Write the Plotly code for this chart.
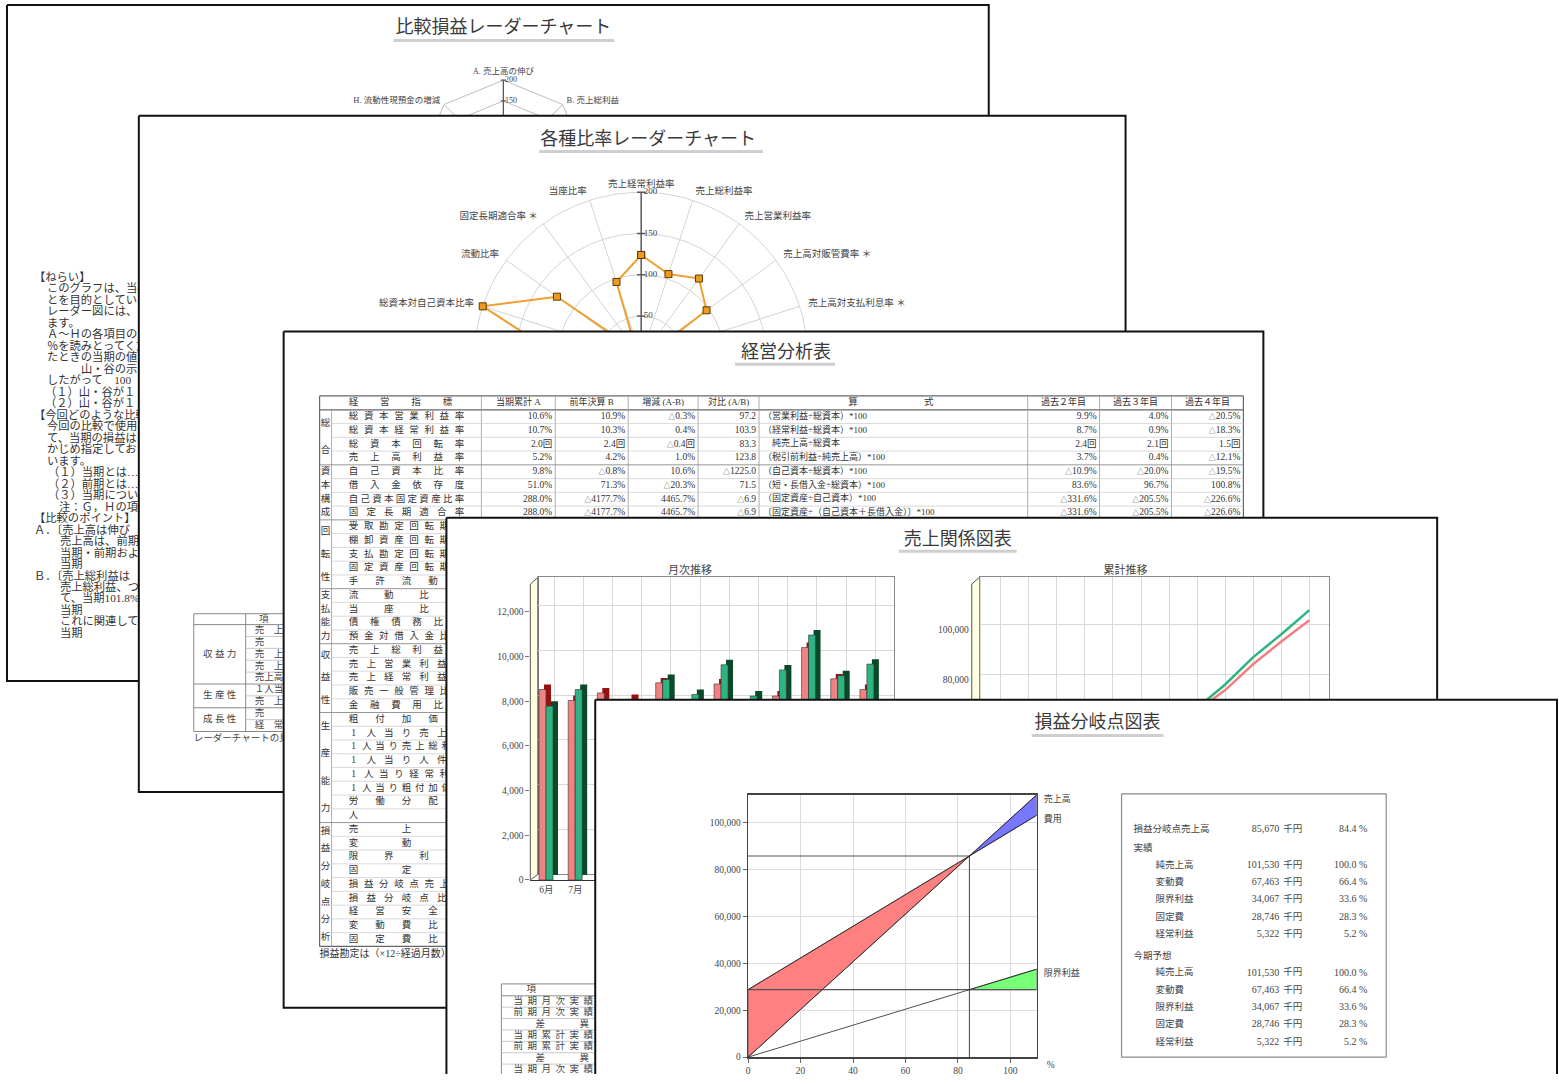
import numpy as np
import plotly.graph_objects as go
from collections import OrderedDict

W, H = 1559, 1085
CJK = "Noto Sans CJK JP"
MIX = "Liberation Serif, Noto Sans CJK JP"
INK = "#333333"

# ======================= DATA =======================
# 比較損益レーダーチャート
radar1_labels = ["A. 売上高の伸び", "B. 売上総利益", "C. 営業利益", "D. 経常利益",
                 "E. 人件費", "F. 販売管理費", "G. 流動資産の増減", "H. 流動性現預金の増減"]
radar1_values = [103.0, 101.8, 96.0, 92.0, 99.0, 97.0, 90.0, 95.0]
radar1_levels = [50, 100, 150, 200]

# 各種比率レーダーチャート
radar2_labels = ["売上経常利益率", "売上総利益率", "売上営業利益率", "売上高対販管費率 ＊",
                 "売上高対支払利息率 ＊", "1人当り売上高", "1人当り粗付加価値", "労働分配率 ＊",
                 "受取勘定回転期間 ＊", "棚卸資産回転期間 ＊", "支払勘定回転期間", "固定資産回転期間 ＊",
                 "手許流動性", "預金対借入金比率", "借入金依存度 ＊", "債権債務比率",
                 "総資本対自己資本比率", "流動比率", "固定長期適合率 ＊", "当座比率"]
radar2_values = [124, 106, 118, 97, 10, 85, 92, 104, 88, 95, 110, 90, 102, 80, 96, 96, 200, 125, 10, 96]
radar2_levels = [50, 100, 150, 200]

# 売上関係図表
months = ["6月", "7月", "8月", "9月", "10月", "11月", "12月", "1月", "2月", "3月", "4月", "5月"]
sales_this = [8520, 8030, 8370, 8080, 8820, 7450, 8770, 7340, 8230, 10400, 9000, 8520]
sales_last = [7780, 8520, 7600, 7400, 8970, 8300, 9630, 8230, 9400, 10960, 9140, 9660]
bar_ticks = [0, 2000, 4000, 6000, 8000, 10000, 12000]
cum_ticks = [0, 20000, 40000, 60000, 80000, 100000]

# 損益分岐点図表
be_sales = 101530
be_variable = 67463
be_fixed = 28746
be_xticks = [0, 20, 40, 60, 80, 100]
be_yticks = [0, 20000, 40000, 60000, 80000, 100000]
box_labels = ["損益分岐点売上高", "実績", "純売上高", "変動費", "限界利益", "固定費", "経常利益",
              "今期予想", "純売上高", "変動費", "限界利益", "固定費", "経常利益"]
box_amounts = [85670, None, 101530, 67463, 34067, 28746, 5322, None, 101530, 67463, 34067, 28746, 5322]
box_pcts = [84.4, None, 100.0, 66.4, 33.6, 28.3, 5.2, None, 100.0, 66.4, 33.6, 28.3, 5.2]

# 経営分析表
t_groups = [("総合", 4), ("資本構成", 4), ("回転性", 5), ("支払能力", 4), ("収益性", 5),
            ("生産能力", 8), ("損益分岐点分析", 9)]
t_names = ["総資本営業利益率", "総資本経常利益率", "総資本回転率", "売上高利益率",
           "自己資本比率", "借入金依存度", "自己資本固定資産比率", "固定長期適合率",
           "受取勘定回転期間", "棚卸資産回転期間", "支払勘定回転期間", "固定資産回転期間", "手許流動性",
           "流動比率", "当座比率", "債権債務比率", "預金対借入金比率",
           "売上総利益率", "売上営業利益率", "売上経常利益率", "販売一般管理比率", "金融費用比率",
           "粗付加価値", "1人当り売上高", "1人当り売上総利益", "1人当り人件費", "1人当り経常利益",
           "1人当り粗付加価値", "労働分配率", "人員",
           "売上高", "変動費", "限界利益", "固定費", "損益分岐点売上高", "損益分岐点比率",
           "経営安全率", "変動費比率", "固定費比率"]
t_headers = ["当期累計 A", "前年決算 B", "増減 (A-B)", "対比 (A/B)", "過去２年目", "過去３年目", "過去４年目"]
t_colA = ["10.6%", "10.7%", "2.0回", "5.2%", "9.8%", "51.0%", "288.0%", "288.0%"]
t_colB = ["10.9%", "10.3%", "2.4回", "4.2%", "△0.8%", "71.3%", "△4177.7%", "△4177.7%"]
t_colD = ["△0.3%", "0.4%", "△0.4回", "1.0%", "10.6%", "△20.3%", "4465.7%", "4465.7%"]
t_colR = ["97.2", "103.9", "83.3", "123.8", "△1225.0", "71.5", "△6.9", "△6.9"]
t_formula = ["（営業利益÷総資本）*100", "（経常利益÷総資本）*100", "　純売上高÷総資本",
             "（税引前利益÷純売上高）*100", "（自己資本÷総資本）*100", "（短・長借入金÷総資本）*100",
             "（固定資産÷自己資本）*100", "〔固定資産÷（自己資本＋長借入金）〕*100"]
t_past2 = ["9.9%", "8.7%", "2.4回", "3.7%", "△10.9%", "83.6%", "△331.6%", "△331.6%"]
t_past3 = ["4.0%", "0.9%", "2.1回", "0.4%", "△20.0%", "96.7%", "△205.5%", "△205.5%"]
t_past4 = ["△20.5%", "△18.3%", "1.5回", "△12.1%", "△19.5%", "100.8%", "△226.6%", "△226.6%"]

# page-1 explanation text (visible part)
p1_text = [
    (32, "【ねらい】"), (45, "このグラフは、当期"), (45, "とを目的としています"),
    (45, "レーダー図には、当"), (45, "ます。"), (45, "Ａ～Ｈの各項目の比"),
    (45, "％を読みとってくだ"), (45, "たときの当期の値を"), (79, "山・谷の示す"),
    (45, "したがって　100"), (43, "（１）山・谷が１"), (43, "（２）山・谷が１"),
    (32, "【今回どのような比較"), (45, "今回の比較で使用し"), (45, "て、当期の損益は当"),
    (45, "かじめ指定しておい"), (45, "います。"), (46, "（１）当期とは…"),
    (46, "（２）前期とは…"), (46, "（３）当期につい"), (57, "注：Ｇ，Ｈの項目"),
    (32, "【比較のポイント】"), (32, "Ａ．〔売上高は伸び"), (58, "売上高は、前期"),
    (58, "当期・前期およ"), (58, "当期"), (32, "Ｂ．〔売上総利益は"),
    (58, "売上総利益、つ"), (58, "て、当期101.8%"), (58, "当期"),
    (58, "これに関連して"), (58, "当期"),
]

# small table on page 2
st_groups = [("収 益 力", 5), ("生 産 性", 2), ("成 長 性", 2)]
st_items = ["売　上　高　伸　び", "売　　　上　　総", "売　上　総　利　益", "売　上　経　常", "売上高経常利益",
            "１人当り売上高", "売　上　高　人", "売　　　上　　高", "経　常　利　益"]

# small table on page 4
bt_rows = ["当期月次実績", "前期月次実績", "差異", "当期累計実績", "前期累計実績", "差異",
           "当期月次実績", "前期月次実績"]

# ======================= HELPERS =======================
fig = go.Figure()
AX = {}


def names(n):
    return ("x" if n == 1 else f"x{n}"), ("y" if n == 1 else f"y{n}")


def set_axes(n, xpx, ypx, xr, yr, xkw=None, ykw=None):
    xa, ya = names(n)
    base = dict(showgrid=False, zeroline=False, showticklabels=False, ticks="",
                showline=False, fixedrange=True)
    X = dict(base, domain=[max(0, xpx[0] / W), min(1, xpx[1] / W)], range=xr, anchor=ya)
    Y = dict(base, domain=[max(0, 1 - ypx[1] / H), min(1, 1 - ypx[0] / H)], range=yr, anchor=xa)
    if xkw:
        X.update(xkw)
    if ykw:
        Y.update(ykw)
    AX["xaxis" if n == 1 else f"xaxis{n}"] = X
    AX["yaxis" if n == 1 else f"yaxis{n}"] = Y


def segs(n, lst, color, width):
    xs, ys = [], []
    for (x0, y0, x1, y1) in lst:
        xs += [x0, x1, None]
        ys += [y0, y1, None]
    xa, ya = names(n)
    fig.add_trace(go.Scatter(x=xs, y=ys, mode="lines", line=dict(color=color, width=width),
                             xaxis=xa, yaxis=ya, hoverinfo="skip", showlegend=False))


def poly(n, xs, ys, fill, line, width=1):
    xa, ya = names(n)
    fig.add_trace(go.Scatter(x=list(xs) + [xs[0]], y=list(ys) + [ys[0]], mode="lines", fill="toself",
                             fillcolor=fill, line=dict(color=line, width=width),
                             xaxis=xa, yaxis=ya, hoverinfo="skip", showlegend=False))


TXT = OrderedDict()


def small_tri(s):
    return s.replace("△", '<span style="font-size:7px">△</span>')


def txt(n, x, y, s, size=10, color=INK, pos="middle right", fam=MIX):
    TXT.setdefault((n, size, color, pos, fam), []).append((x, y, s))


def flush():
    for (n, size, color, pos, fam), items in TXT.items():
        xa, ya = names(n)
        fig.add_trace(go.Scatter(x=[i[0] for i in items], y=[i[1] for i in items],
                                 text=[i[2] for i in items], mode="text", textposition=pos,
                                 textfont=dict(size=size, color=color, family=fam),
                                 xaxis=xa, yaxis=ya, hoverinfo="skip", showlegend=False))


def title(n, cx, cy, s, u0, u1, uy):
    segs(n, [(u0, uy, u1, uy)], "#cfcfcf", 3)
    txt(n, cx, cy, s, 18, "#3a3a3a", "middle center", CJK)


# ======================= PAGES =======================
PAGES = OrderedDict([(1, (5, 5, 988, 688)), (3, (137, 117, 1125, 800)), (5, (282, 335, 1263, 1018)),
                     (6, (445, 523, 1437, 1100)), (10, (594, 707, 1557, 1100))])
for n, (x0, y0, x1, y1) in PAGES.items():
    dx0, dy0, dx1, dy1 = max(x0 - 3, 0), max(y0 - 3, 0), min(x1 + 3, W), min(y1 + 3, H)
    set_axes(n, (dx0, dx1), (dy0, dy1), [dx0, dx1], [dy1, dy0])
    xa, ya = names(n)
    fig.add_trace(go.Scatter(x=[x0, x1, x1, x0, x0], y=[y0, y0, y1, y1, y0], mode="lines",
                             fill="toself", fillcolor="white", line=dict(color="#111111", width=2),
                             xaxis=xa, yaxis=ya, hoverinfo="skip", showlegend=False))

# ---------------- page 1 ----------------
title(1, 502, 29, "比較損益レーダーチャート", 392, 613, 41)
for i, (x, s) in enumerate(p1_text):
    txt(1, x, 281 + 11.6 * i, s, 11.3, "#333333", "middle right", MIX)

# radar 1 (subplot 2)
R1 = 0.42
set_axes(2, (352, 652), (15, 315), [-150 / R1, 150 / R1], [-150 / R1, 150 / R1])
a1 = np.deg2rad(np.arange(len(radar1_labels)) * 360.0 / len(radar1_labels))
top1 = max(radar1_levels)
gx, gy = [], []
for L in radar1_levels:
    gx += list(L * np.sin(a1)) + [0.0, None]
    gy += list(L * np.cos(a1)) + [float(L), None]
for a in a1:
    gx += [0, top1 * np.sin(a), None]
    gy += [0, top1 * np.cos(a), None]
fig.add_trace(go.Scatter(x=gx, y=gy, mode="lines", line=dict(color="#bdbdbd", width=1),
                         xaxis="x2", yaxis="y2", hoverinfo="skip", showlegend=False))
v1 = np.array(radar1_values)
fig.add_trace(go.Scatter(x=list(v1 * np.sin(a1)) + [v1[0] * np.sin(a1[0])],
                         y=list(v1 * np.cos(a1)) + [v1[0] * np.cos(a1[0])],
                         mode="lines", line=dict(color="#e05050", width=1.5),
                         xaxis="x2", yaxis="y2", hoverinfo="skip", showlegend=False))
segs(2, [(0, 0, 0, top1)] + [(-6, L, 6, L) for L in radar1_levels], "#555555", 1.2)
for L in radar1_levels:
    txt(2, 4, L, str(L), 8, "#444444", "middle right")
for k, lab in enumerate(radar1_labels):
    s, c = np.sin(a1[k]), np.cos(a1[k])
    r = 219 if abs(s) < 0.05 else 213
    pos = "middle center" if abs(s) < 0.05 else ("middle right" if s > 0 else "middle left")
    txt(2, r * s, r * c, lab, 8.5, "#444444", pos)

# ---------------- page 2 ----------------
title(3, 647, 142, "各種比率レーダーチャート", 538, 762, 153)
# small table
st_top, st_head, st_row = 620, 631, 12
nst = sum(g[1] for g in st_groups)
st_bot = st_head + st_row * nst
lines_o = [(192, st_top, 300, st_top), (192, st_head, 300, st_head), (192, st_top, 192, st_bot),
           (192, st_bot, 300, st_bot), (244, st_top, 244, st_bot)]
ends = list(np.cumsum([g[1] for g in st_groups]))
lines_i = []
for i in range(1, nst):
    y = st_head + st_row * i
    if i in ends:
        lines_o.append((192, y, 300, y))
    else:
        lines_i.append((244, y, 300, y))
segs(3, lines_o, "#8a8a8a", 1)
segs(3, lines_i, "#bbbbbb", 0.8)
txt(3, 262, 626, "項", 9.5, "#444444", "middle center")
start = 0
for g, sz in st_groups:
    txt(3, 218, st_head + st_row * (start + sz / 2.0), g, 9.5, "#444444", "middle center")
    start += sz
for i, s in enumerate(st_items):
    txt(3, 253, st_head + st_row * (i + 0.5), s, 9.5, "#444444", "middle right")
txt(3, 192, 746, "レーダーチャートの見方", 9.5, "#444444", "middle right")

# radar 2 (subplot 4)
R2 = 0.834
set_axes(4, (310, 970), (131, 591), [-330 / R2, 330 / R2], [-230 / R2, 230 / R2])
n2 = len(radar2_labels)
a2 = np.deg2rad(np.arange(n2) * 360.0 / n2)
top2 = max(radar2_levels)
t = np.linspace(0, 2 * np.pi, 241)
gx, gy = [], []
for L in radar2_levels:
    gx += list(L * np.sin(t)) + [None]
    gy += list(L * np.cos(t)) + [None]
for a in a2:
    gx += [0, top2 * np.sin(a), None]
    gy += [0, top2 * np.cos(a), None]
fig.add_trace(go.Scatter(x=gx, y=gy, mode="lines", line=dict(color="#d3d3d3", width=1),
                         xaxis="x4", yaxis="y4", hoverinfo="skip", showlegend=False))
segs(4, [(0, 0, 0, top2)] + [(-5, L, 5, L) for L in radar2_levels], "#555555", 1.4)
v2 = np.array(radar2_values, dtype=float)
fig.add_trace(go.Scatter(x=list(v2 * np.sin(a2)) + [v2[0] * np.sin(a2[0])],
                         y=list(v2 * np.cos(a2)) + [v2[0] * np.cos(a2[0])],
                         mode="lines+markers", line=dict(color="#F0A030", width=2),
                         marker=dict(symbol="square", size=7, color="#EE9A22",
                                     line=dict(color="#5a3a00", width=1)),
                         xaxis="x4", yaxis="y4", hoverinfo="skip", showlegend=False))
for L in radar2_levels:
    txt(4, 3, L, str(L), 9, "#444444", "middle right")
for k, lab in enumerate(radar2_labels):
    s, c = np.sin(a2[k]), np.cos(a2[k])
    r = 209 if abs(s) < 0.05 else 211
    pos = "middle center" if abs(s) < 0.05 else ("middle right" if s > 0 else "middle left")
    txt(4, r * s, r * c, lab, 9.5, "#444444", pos)

# ---------------- page 3 ----------------
title(5, 785, 357, "経営分析表", 734, 834, 368)
cols = [318, 330, 480, 554, 627, 697, 758, 1027, 1099, 1171, 1243]
T_TOP, T_HEAD, T_ROW = 400, 414, 13.9
nr = len(t_names)
T_BOT = T_HEAD + T_ROW * nr
segs(5, [(318, T_TOP, 1243, T_TOP), (318, T_BOT, 1243, T_BOT), (318, T_TOP, 318, T_BOT),
         (1243, T_TOP, 1243, T_BOT), (318, T_HEAD, 1243, T_HEAD)], "#666666", 1.2)
segs(5, [(c, T_TOP, c, T_BOT) for c in cols[2:-1]] + [(330, T_HEAD, 330, T_BOT)], "#9a9a9a", 0.8)
gends = list(np.cumsum([g[1] for g in t_groups]))
inner, grp = [], []
for i in range(1, nr):
    y = T_HEAD + T_ROW * i
    if i in gends:
        grp.append((318, y, 1243, y))
    else:
        inner.append((330, y, 1243, y))
segs(5, inner, "#c8c8c8", 0.7)
segs(5, grp, "#8a8a8a", 0.9)
# header
hy = (T_TOP + T_HEAD) / 2.0
for ch, x in zip("経営指標", np.linspace(352, 446, 4)):
    txt(5, x, hy, ch, 9.5, INK, "middle center")
for lab, c0, c1 in zip(t_headers[:4], cols[2:6], cols[3:7]):
    txt(5, (c0 + c1) / 2.0, hy, lab, 9, INK, "middle center")
for lab, c0, c1 in zip(t_headers[4:], cols[7:10], cols[8:11]):
    txt(5, (c0 + c1) / 2.0, hy, lab, 9, INK, "middle center")
txt(5, 852, hy, "算", 9.5, INK, "middle center")
txt(5, 928, hy, "式", 9.5, INK, "middle center")
# group labels
start = 0
for g, sz in t_groups:
    top = T_HEAD + T_ROW * start
    h = T_ROW * sz
    for j, ch in enumerate(g):
        txt(5, 324, top + h * (j + 0.5) / len(g), ch, 9.5, INK, "middle center")
    start += sz
# names (justified)
for i, nm in enumerate(t_names):
    yc = T_HEAD + T_ROW * (i + 0.5)
    xs = np.linspace(352, 458, len(nm)) if len(nm) > 1 else [352]
    for ch, x in zip(nm, xs):
        txt(5, x, yc, ch, 9.5, INK, "middle center")
# values
for i in range(len(t_colA)):
    yc = T_HEAD + T_ROW * (i + 0.5)
    for col, xr in [(t_colA, 551), (t_colB, 624), (t_colD, 694), (t_colR, 755),
                    (t_past2, 1096), (t_past3, 1168), (t_past4, 1240)]:
        txt(5, xr, yc, small_tri(col[i]), 9.5, INK, "middle left")
    txt(5, 762, yc, t_formula[i], 9, INK, "middle right")
txt(5, 318, T_BOT + 8, "損益勘定は（×12÷経過月数）で年換算しています。", 10, INK, "middle right")

# ---------------- page 4 ----------------
title(6, 957, 546, "売上関係図表", 898, 1016, 557)
txt(6, 689, 577, "月次推移", 11, "#444444", "middle center", CJK)
txt(6, 1125, 577, "累計推移", 11, "#444444", "middle center", CJK)
poly(6, [529, 537, 537, 529], [889, 883, 583, 590], "#FFFFE0", "#555555", 1)
poly(6, [971, 979, 979, 971], [889, 883, 583, 590], "#FFFFE0", "#555555", 1)
# small table bottom-left
bt_top, bt_head, bt_row = 994, 1006, 11.5
bl = [(500, bt_top, 640, bt_top), (500, bt_top, 500, 1090), (500, bt_head, 640, bt_head)]
segs(6, bl, "#8a8a8a", 1)
segs(6, [(500, bt_head + bt_row * k, 640, bt_head + bt_row * k) for k in range(1, len(bt_rows))],
     "#bbbbbb", 0.8)
txt(6, 530, (bt_top + bt_head) / 2.0, "項", 9.5, "#444444", "middle center")
txt(6, 612, (bt_top + bt_head) / 2.0, "目", 9.5, "#444444", "middle center")
for i, s in enumerate(bt_rows):
    yc = bt_head + bt_row * (i + 0.5)
    xs = [539, 583] if len(s) == 2 else [517 + 14 * j for j in range(len(s))]
    for ch, x in zip(s, xs):
        txt(6, x, yc, ch, 9.5, "#444444", "middle center")

# bar chart back plane (subplot 7)
BX0, BX1 = -0.548, 11.64
BYMAX = 13286
set_axes(7, (537, 893), (583, 883), [BX0, BX1], [0, BYMAX],
         xkw=dict(showgrid=True, gridcolor="#d9d9d9", tickvals=list(range(12)), showline=True,
                  mirror=True, linecolor="#8a8a8a", linewidth=1),
         ykw=dict(showgrid=True, gridcolor="#d9d9d9", tickvals=bar_ticks, showline=True,
                  mirror=True, linecolor="#8a8a8a", linewidth=1))
fig.add_trace(go.Scatter(x=[None], y=[None], xaxis="x7", yaxis="y7", showlegend=False, hoverinfo="skip"))

# bar chart front plane (subplot 8)
set_axes(8, (529, 885), (589, 889), [BX0, BX1], [0, BYMAX],
         xkw=dict(tickvals=list(range(12)), ticktext=months, showticklabels=True,
                  tickfont=dict(size=9.5, color="#444444", family=MIX),
                  showline=True, linecolor="#333333", linewidth=1.5),
         ykw=dict(tickvals=bar_ticks, tickformat=",", showticklabels=True, ticks="outside",
                  ticklen=4, tickcolor="#777777",
                  tickfont=dict(size=9.5, color="#444444", family=MIX)))
DX, DY = 0.171, 221
for vals, front, side, off in [(sales_this, "#F28282", "#9A1010", -0.25),
                               (sales_last, "#2DB482", "#0B4A28", -0.01)]:
    fig.add_trace(go.Bar(x=list(range(12)), y=vals, base=DY, offset=off + DX, width=0.24,
                         marker=dict(color=side, line=dict(width=0)),
                         xaxis="x8", yaxis="y8", hoverinfo="skip", showlegend=False))
    fig.add_trace(go.Bar(x=list(range(12)), y=vals, offset=off, width=0.24,
                         marker=dict(color=front, line=dict(color="#333333", width=0.6)),
                         xaxis="x8", yaxis="y8", hoverinfo="skip", showlegend=False))

# cumulative line chart (subplot 9, back plane)
set_axes(9, (979, 1329), (583, 883), [-0.747, 11.71], [0, 118812],
         xkw=dict(showgrid=True, gridcolor="#d9d9d9", tickvals=list(range(12)), showline=True,
                  mirror=True, linecolor="#8a8a8a", linewidth=1),
         ykw=dict(showgrid=True, gridcolor="#d9d9d9", tickvals=cum_ticks, tickformat=",",
                  showticklabels=True, ticklabelshift=6, ticklabelstandoff=8,
                  tickfont=dict(size=9.5, color="#444444", family=MIX),
                  showline=True, mirror=True, linecolor="#8a8a8a", linewidth=1))
fig.add_trace(go.Scatter(x=list(range(12)), y=np.cumsum(sales_last), mode="lines",
                         line=dict(color="#2DB482", width=2.5), xaxis="x9", yaxis="y9",
                         hoverinfo="skip", showlegend=False))
fig.add_trace(go.Scatter(x=list(range(12)), y=np.cumsum(sales_this), mode="lines",
                         line=dict(color="#F08080", width=2.5), xaxis="x9", yaxis="y9",
                         hoverinfo="skip", showlegend=False))

# ---------------- page 5 ----------------
title(10, 1097, 731, "損益分岐点図表", 1031, 1163, 743)
txt(10, 1043, 808, "売上高", 9, "#444444", "middle right")
txt(10, 1043, 828, "費用", 9, "#444444", "middle right")
txt(10, 1043, 984, "限界利益", 9, "#444444", "middle right")
txt(10, 1050, 1077, "%", 9.5, "#444444", "middle center")
segs(10, [(1121, 802, 1386, 802), (1386, 802, 1386, 1068), (1386, 1068, 1121, 1068),
          (1121, 1068, 1121, 802)], "#8a8a8a", 1.2)
box_y = [838, 857, 874, 892, 909, 927, 944, 966, 983, 1001, 1018, 1035, 1053]
for lab, amt, pct, y in zip(box_labels, box_amounts, box_pcts, box_y):
    if amt is None:
        txt(10, 1133, y, lab, 9.5, "#444444", "middle right")
        continue
    x = 1133 if lab == "損益分岐点売上高" else 1155
    txt(10, x, y, lab, 9.5, "#444444", "middle right")
    txt(10, 1279, y, f"{amt:,}", 10, "#444444", "middle left")
    txt(10, 1283, y, "千円", 9.5, "#444444", "middle right")
    txt(10, 1367, y, f"{pct:.1f} %", 10, "#444444", "middle left")

# break-even chart (subplot 11)
xmax = 110
set_axes(11, (747, 1036), (803, 1068), [0, xmax], [0, be_sales * xmax / 100.0],
         xkw=dict(showgrid=True, gridcolor="#dcdcdc", tickvals=be_xticks, showticklabels=True,
                  ticks="outside", ticklen=4, tickcolor="#666666",
                  tickfont=dict(size=9.5, color="#444444", family=MIX),
                  showline=True, mirror=True, linecolor="#444444", linewidth=1.5),
         ykw=dict(showgrid=True, gridcolor="#dcdcdc", tickvals=be_yticks, tickformat=",",
                  showticklabels=True, ticks="outside", ticklen=4, tickcolor="#666666",
                  tickfont=dict(size=9.5, color="#444444", family=MIX),
                  showline=True, mirror=True, linecolor="#444444", linewidth=1.5))
vr = be_variable / be_sales
bep = be_fixed / (1 - vr)
bep_pct = bep / be_sales * 100
S = lambda p: be_sales * p / 100.0
C = lambda p: be_fixed + be_variable * p / 100.0
M = lambda p: (be_sales - be_variable) * p / 100.0
poly(11, [0, 0, bep_pct], [S(0), C(0), bep], "#FF8080", "#222222", 0.6)
poly(11, [bep_pct, xmax, xmax], [bep, S(xmax), C(xmax)], "#7777FF", "#222222", 0.6)
poly(11, [bep_pct, xmax, xmax], [be_fixed, M(xmax), be_fixed], "#77FF77", "#222222", 0.6)
segs(11, [(0, be_fixed, xmax, be_fixed), (0, bep, bep_pct, bep), (bep_pct, 0, bep_pct, bep)],
     "#555555", 1.1)
segs(11, [(0, S(0), xmax, S(xmax)), (0, C(0), xmax, C(xmax)), (0, M(0), xmax, M(xmax))],
     "#222222", 0.8)

# texts last so they sit above lines within each page
flush()

fig.update_layout(width=W, height=H, autosize=False, margin=dict(l=0, r=0, t=0, b=0, pad=0),
                  paper_bgcolor="white", plot_bgcolor="rgba(0,0,0,0)", showlegend=False,
                  barmode="overlay", hovermode=False, font=dict(family=MIX, color=INK), **AX)
fig.write_html("out.html", config={"displayModeBar": False, "staticPlot": True})
